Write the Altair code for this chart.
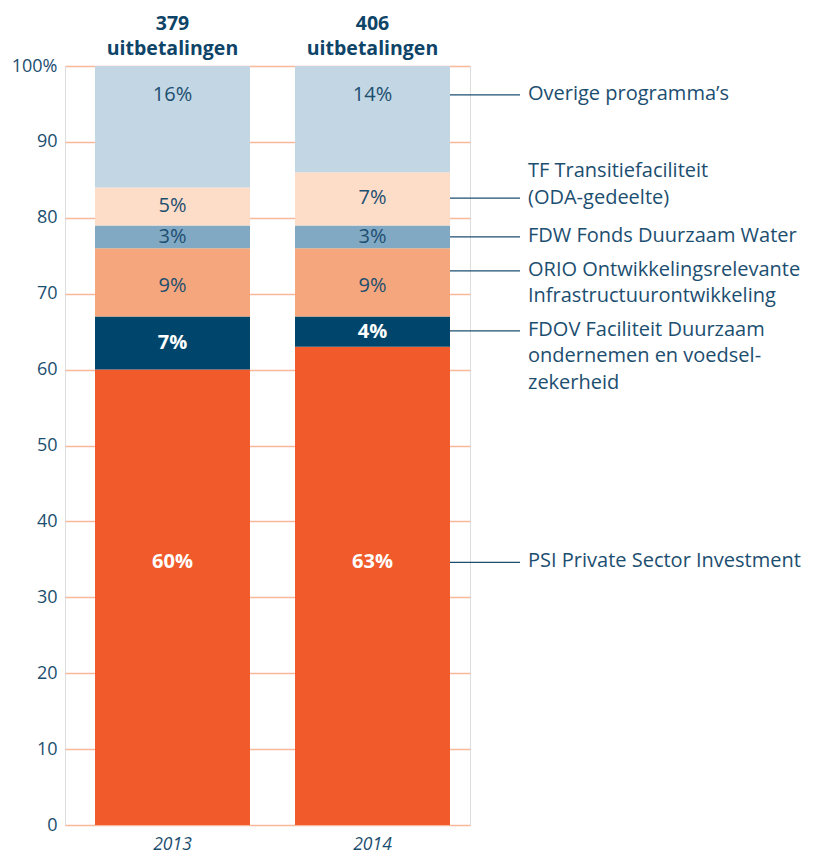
import altair as alt
import pandas as pd

years = ["2013", "2014"]
headers = ["379\nuitbetalingen", "406\nuitbetalingen"]
programmes = ["PSI", "FDOV", "ORIO", "FDW", "TF", "Overige"]
values_2013 = [60, 7, 9, 3, 5, 16]
values_2014 = [63, 4, 9, 3, 7, 14]
# vertical position (in %) of the in-bar value labels
labelpos_2013 = [34.6, 63.5, 71.0, 77.5, 81.5, 96.2]
labelpos_2014 = [34.6, 65.0, 71.0, 77.5, 82.6, 96.2]
colors = ["#F15A2A", "#00466C", "#F6A67C", "#82A9C4", "#FDDCC8", "#C2D6E4"]
label_colors = ["white", "white", "#1C4E70", "#1C4E70", "#1C4E70", "#1C4E70"]
label_weights = ["bold", "bold", "normal", "normal", "normal", "normal"]
legend_texts = [
    "PSI Private Sector Investment",
    "FDOV Faciliteit Duurzaam\nondernemen en voedsel-\nzekerheid",
    "ORIO Ontwikkelingsrelevante\nInfrastructuurontwikkeling",
    "FDW Fonds Duurzaam Water",
    "TF Transitiefaciliteit\n(ODA-gedeelte)",
    "Overige programma\u2019s",
]
leader_pos = [34.6, 65.1, 73.0, 77.5, 82.6, 96.2]
legend_text_pos = [34.6, 65.1, 73.0, 77.5, 86.0, 96.2]

TEXT = "#1C4E70"
FONT = "Open Sans"

rows = []
for yr, vals, lps in [("2013", values_2013, labelpos_2013), ("2014", values_2014, labelpos_2014)]:
    cum = 0
    for i, (p, v) in enumerate(zip(programmes, vals)):
        rows.append(dict(year=yr, prog=p, order=i, y0=cum, y1=cum + v, val=v,
                         label=f"{v}%", lpos=lps[i], lcolor=label_colors[i],
                         bold=label_weights[i] == "bold"))
        cum += v
df = pd.DataFrame(rows)

hdr = pd.DataFrame({"year": years, "header": headers, "top": [100, 100]})
leg = pd.DataFrame({"year": ["2014"] * 6, "text": legend_texts,
                    "lp": leader_pos, "tp": legend_text_pos})

xscale = alt.Scale(domain=years, paddingInner=0.225, paddingOuter=0.125, align=0.6)
x = alt.X("year:N", scale=xscale,
          axis=alt.Axis(title=None, orient="bottom", labelAngle=0, labelFont=FONT,
                        labelFontSize=17.5, labelFontStyle="italic", labelColor=TEXT,
                        labelPadding=10, domain=False, ticks=False))
yscale = alt.Scale(domain=[0, 100], nice=False)

bars = alt.Chart(df).mark_bar(size=155).encode(
    x=x,
    y=alt.Y("y0:Q", scale=yscale,
            axis=alt.Axis(title=None, values=list(range(0, 101, 10)),
                          labelExpr="datum.value == 100 ? '100%' : datum.label",
                          labelFont=FONT, labelFontSize=18, labelColor=TEXT,
                          labelPadding=8, domain=False, ticks=False,
                          grid=True, gridColor="#F8B89A", gridWidth=1.3)),
    y2="y1:Q",
    color=alt.Color("prog:N", scale=alt.Scale(domain=programmes, range=colors), legend=None),
)

lab_norm = alt.Chart(df[~df.bold]).mark_text(font=FONT, fontSize=20, baseline="middle").encode(
    x=alt.X("year:N", scale=xscale), y=alt.Y("lpos:Q", scale=yscale),
    text="label:N", color=alt.Color("lcolor:N", scale=None))
lab_bold = alt.Chart(df[df.bold]).mark_text(font=FONT, fontSize=20, fontWeight="bold",
                                            baseline="middle").encode(
    x=alt.X("year:N", scale=xscale), y=alt.Y("lpos:Q", scale=yscale),
    text="label:N", color=alt.Color("lcolor:N", scale=None))

head = alt.Chart(hdr).mark_text(font=FONT, fontSize=19.5, fontWeight="bold", color="#0E4468",
                                lineBreak="\n", lineHeight=25, baseline="middle", dy=-42).encode(
    x=alt.X("year:N", scale=xscale), y=alt.Y("top:Q", scale=yscale), text="header:N")

leaders = alt.Chart(leg).mark_rule(color="#1C4E70", strokeWidth=1.3).encode(
    x=alt.X("year:N", scale=xscale, bandPosition=1),
    x2=alt.value(455),
    y=alt.Y("lp:Q", scale=yscale))

legtext = alt.Chart(leg).mark_text(font=FONT, fontSize=20, color=TEXT, align="left",
                                   baseline="top", dy=-11, dx=78, lineBreak="\n",
                                   lineHeight=26.5).encode(
    x=alt.X("year:N", scale=xscale, bandPosition=1),
    y=alt.Y("tp:Q", scale=yscale), text="text:N")

chart = alt.layer(bars, leaders, lab_norm, lab_bold, head, legtext).properties(
    width=405, height=759,
    autosize=alt.AutoSizeParams(type="none"),
    padding={"left": 57, "top": 58, "right": 340, "bottom": 31}
).configure_view(stroke=None).configure(background="white")

chart.save("out.html", embed_options={"renderer": "svg", "actions": False})
